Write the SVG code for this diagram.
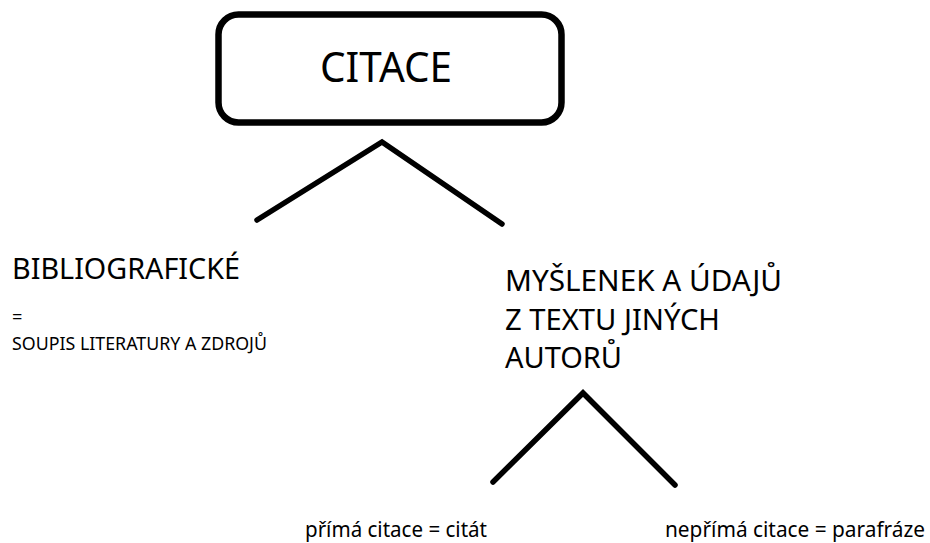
<svg xmlns="http://www.w3.org/2000/svg" width="930" height="543" viewBox="0 0 930 543">
  <style>
    .bg { fill: #ffffff; }
    .box { fill: #ffffff; stroke: #000000; stroke-width: 6.5; }
    .link { fill: none; stroke: #000000; stroke-width: 5.5; stroke-linecap: round; stroke-linejoin: miter; }
    text { font-family: "Noto Sans", "Open Sans", "Liberation Sans", sans-serif; fill: #000000; }
    .title { font-size: 41.5px; }
    .head { font-size: 29.4px; }
    .small { font-size: 18.2px; }
    .leaf { font-size: 21px; }
  </style>
  <rect class="bg" x="0" y="0" width="930" height="543"/>

  <!-- branch lines -->
  <g id="connectors">
    <polyline class="link" points="257,220 382,142 502,224"/>
    <polyline class="link" points="493,482 583,393 675,485"/>
  </g>

  <g id="citace">
    <rect class="box" x="218.5" y="14.5" width="343" height="108" rx="20" ry="20"/>
    <text class="title" x="320" y="82" textLength="132" lengthAdjust="spacingAndGlyphs">CITACE</text>
  </g>

  <g id="bibliograficke">
    <text class="head" x="12" y="279" textLength="228" lengthAdjust="spacingAndGlyphs">BIBLIOGRAFICKÉ</text>
    <text class="small" x="12" y="323">=</text>
    <text class="small" x="12" y="350" textLength="255" lengthAdjust="spacingAndGlyphs">SOUPIS LITERATURY A ZDROJŮ</text>
  </g>

  <g id="myslenek">
    <text class="head" x="505" y="291" textLength="277" lengthAdjust="spacingAndGlyphs">MYŠLENEK A ÚDAJŮ</text>
    <text class="head" x="505" y="329.5" textLength="215" lengthAdjust="spacingAndGlyphs">Z TEXTU JINÝCH</text>
    <text class="head" x="505" y="368" textLength="117" lengthAdjust="spacingAndGlyphs">AUTORŮ</text>
  </g>

  <g id="prima">
    <text class="leaf" x="305" y="537" textLength="182" lengthAdjust="spacingAndGlyphs">přímá citace = citát</text>
  </g>

  <g id="neprima">
    <text class="leaf" x="665" y="537" textLength="260" lengthAdjust="spacingAndGlyphs">nepřímá citace = parafráze</text>
  </g>
</svg>
